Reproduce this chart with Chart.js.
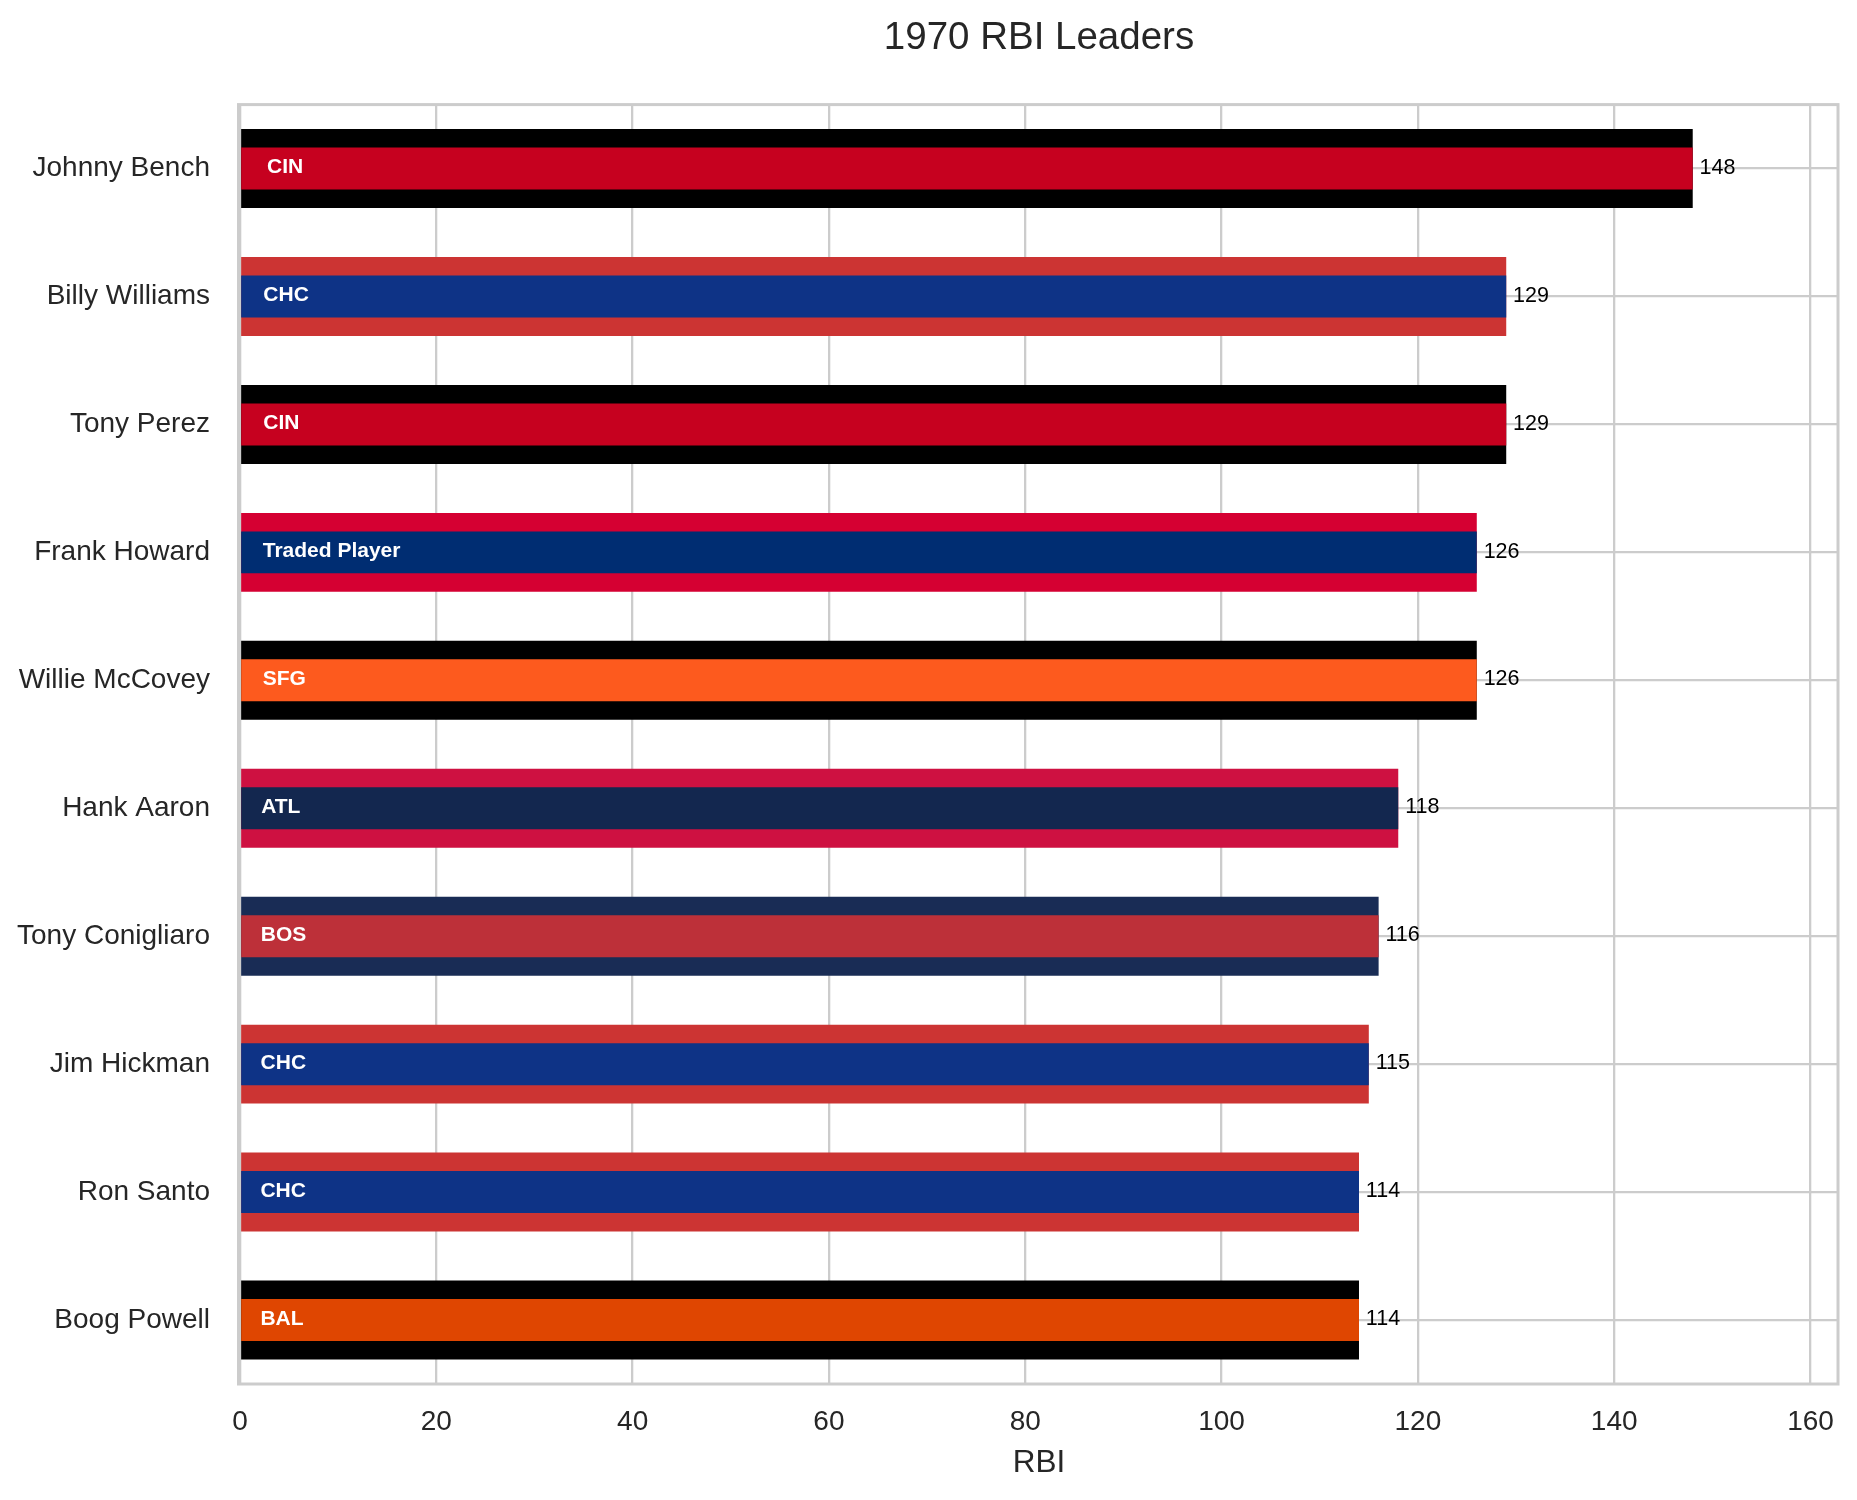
<!DOCTYPE html>
<html>
<head>
<meta charset="utf-8">
<title>1970 RBI Leaders</title>
<script src="https://cdn.jsdelivr.net/npm/chart.js@4.4.0/dist/chart.umd.min.js"></script>
<style>
  html, body { margin: 0; padding: 0; background: #ffffff; }
  #wrap { width: 1857px; height: 1500px; }
</style>
</head>
<body>
<div id="wrap"><canvas id="rbiChart" width="1857" height="1500"></canvas></div>
<script>
// data
const players = ['Johnny Bench', 'Billy Williams', 'Tony Perez', 'Frank Howard', 'Willie McCovey',
                 'Hank Aaron', 'Tony Conigliaro', 'Jim Hickman', 'Ron Santo', 'Boog Powell'];
const rbi = [148, 129, 129, 126, 126, 118, 116, 115, 114, 114];
const teams = ['CIN', 'CHC', 'CIN', 'Traded Player', 'SFG', 'ATL', 'BOS', 'CHC', 'CHC', 'BAL'];
const xTickStep = 20;

// team colours: [main, trim]
const teamColors = {
  'CIN': ['#C6011F', '#000000'],
  'CHC': ['#0E3386', '#CC3433'],
  'Traded Player': ['#002D72', '#D50032'],
  'SFG': ['#FD5A1E', '#000000'],
  'ATL': ['#13274F', '#CE1141'],
  'BOS': ['#BD3039', '#192C55'],
  'BAL': ['#DF4601', '#000000']
};

const FONT = '"Liberation Sans", Arial, Helvetica, sans-serif';
const TEXT = '#262626';
const GRID = '#cccccc';

Chart.defaults.font.family = FONT;
Chart.defaults.color = TEXT;

// plot frame + bar labels
const barLabels = {
  id: 'barLabels',
  beforeDatasetsDraw(chart) {
    const { ctx, chartArea: a } = chart;
    ctx.save();
    ctx.strokeStyle = GRID;
    ctx.lineWidth = 3;
    ctx.strokeRect(a.left - 1.5, a.top, a.right - a.left + 1.5, a.bottom - a.top);
    ctx.restore();
  },
  afterDatasetsDraw(chart) {
    const { ctx } = chart;
    const xs = chart.scales.x;
    const ys = chart.scales.y;
    ctx.save();
    ctx.textAlign = 'left';
    ctx.textBaseline = 'middle';
    rbi.forEach((v, i) => {
      const y = ys.getPixelForValue(i);
      // team name inside the bar
      ctx.font = 'bold 21px ' + FONT;
      ctx.fillStyle = '#ffffff';
      ctx.fillText(teams[i], xs.getPixelForValue(v * 0.02) - 2, y - 1.2);
      // value at the bar end
      ctx.font = '21.5px ' + FONT;
      ctx.fillStyle = '#000000';
      ctx.fillText(String(v), xs.getPixelForValue(v + 0.7), y - 0.8);
    });
    ctx.restore();
  }
};

const ctx = document.getElementById('rbiChart').getContext('2d');
new Chart(ctx, {
  type: 'bar',
  data: {
    labels: players,
    datasets: [
      {
        label: 'trim',
        data: rbi,
        backgroundColor: teams.map(t => teamColors[t][1]),
        barPercentage: 0.617,
        categoryPercentage: 1,
        grouped: false,
        order: 2
      },
      {
        label: 'main',
        data: rbi,
        backgroundColor: teams.map(t => teamColors[t][0]),
        barPercentage: 0.328,
        categoryPercentage: 1,
        grouped: false,
        order: 1
      }
    ]
  },
  options: {
    indexAxis: 'y',
    responsive: false,
    animation: false,
    devicePixelRatio: 1,
    layout: { padding: { left: 0, right: 19, top: 0, bottom: 0 } },
    plugins: {
      legend: { display: false },
      tooltip: { enabled: false },
      title: {
        display: true,
        text: '1970 RBI Leaders',
        fullSize: false,
        color: TEXT,
        font: { size: 38.5, weight: 'normal' },
        padding: { top: 15, bottom: 43.4 }
      }
    },
    scales: {
      x: {
        type: 'linear',
        position: 'bottom',
        min: 0,
        max: 162.8,
        afterFit: s => { s.height = 116; },
        ticks: {
          stepSize: xTickStep,
          includeBounds: false,
          padding: 21.5,
          color: TEXT,
          font: { size: 28 }
        },
        grid: { color: GRID, lineWidth: 2.3, drawTicks: false },
        border: { display: false },
        title: {
          display: true,
          text: 'RBI',
          color: TEXT,
          font: { size: 31.5 },
          padding: { top: 0, bottom: 18 }
        }
      },
      y: {
        type: 'category',
        afterFit: s => { s.width = 240; },
        ticks: { padding: 30, color: TEXT, font: { size: 28 } },
        grid: { color: GRID, lineWidth: 2.3, drawTicks: false, offset: false },
        border: { display: false }
      }
    }
  },
  plugins: [barLabels]
});
</script>
</body>
</html>
